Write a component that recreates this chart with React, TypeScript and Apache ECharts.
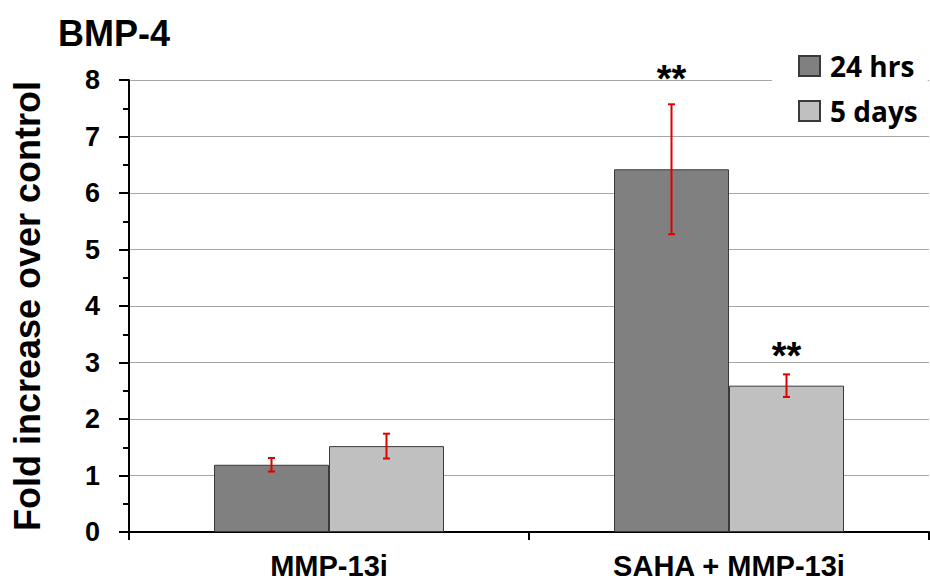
import React, { useEffect, useRef } from "react";
import * as echarts from "echarts";

const categories = ["MMP-13i", "SAHA + MMP-13i"];
const seriesNames = ["24 hrs", "5 days"];
const hrs24 = [1.19, 6.42];
const days5 = [1.52, 2.59];
const hrs24Err = [0.12, 1.15];
const days5Err = [0.22, 0.2];
const hrs24Sig = ["", "**"];
const days5Sig = ["", "**"];
const hrs24SigY = [0, 8.02];
const days5SigY = [0, 3.12];
const yTicks = [0, 1, 2, 3, 4, 5, 6, 7, 8];

const BAR_W = 115;
const FONT = "Arial, 'Liberation Sans', sans-serif";

function errSeries(means: number[], errs: number[], sig: string[], sigY: number[], side: number) {
  return {
    type: "custom",
    silent: true,
    z: 5,
    clip: false,
    data: means.map((m, i) => [i, m, errs[i], sigY[i]]),
    encode: { x: 0, y: 1 },
    renderItem: (params: any, api: any) => {
      const cat = api.value(0);
      const mean = api.value(1);
      const err = api.value(2);
      const sy = api.value(3);
      const off = (side * BAR_W) / 2;
      const xc = api.coord([cat, mean])[0] + off;
      const top = api.coord([cat, mean + err])[1];
      const bot = api.coord([cat, mean - err])[1];
      const st = { stroke: "#e00000", lineWidth: 2 };
      const cap = 3.5;
      const children: any[] = [
        { type: "line", shape: { x1: xc, y1: top, x2: xc, y2: bot }, style: st },
        { type: "line", shape: { x1: xc - cap, y1: top, x2: xc + cap, y2: top }, style: st },
        { type: "line", shape: { x1: xc - cap, y1: bot, x2: xc + cap, y2: bot }, style: st },
      ];
      const s = sig[params.dataIndex];
      if (s) {
        const p = api.coord([cat, sy]);
        children.push({
          type: "text",
          x: xc,
          y: p[1],
          style: {
            text: s,
            fontSize: 38,
            fontWeight: "bold",
            fontFamily: FONT,
            fill: "#000",
            align: "center",
            verticalAlign: "middle",
          },
        });
      }
      return { type: "group", children };
    },
  };
}

export default function App() {
  const ref = useRef<HTMLDivElement>(null);
  useEffect(() => {
    if (!ref.current) return;
    const chart = echarts.init(ref.current, null, { renderer: "svg" });
    chart.setOption({
      animation: false,
      backgroundColor: "#fff",
      title: {
        text: "BMP-4",
        left: 53,
        top: 10,
        textStyle: { fontSize: 36, fontWeight: "bold", fontFamily: FONT, color: "#000" },
      },
      legend: {
        data: seriesNames,
        orient: "vertical",
        left: 772,
        top: 47,
        padding: [5, 10, 5, 26],
        backgroundColor: "#fff",
        itemWidth: 21,
        itemHeight: 20,
        itemGap: 17,
        icon: "rect",
        z: 10,
        textStyle: {
          fontSize: 28,
          fontWeight: "bold",
          fontFamily: "'Open Sans', sans-serif",
          color: "#000",
          lineHeight: 28,
          padding: [0, 0, 0, 5],
        },
      },
      grid: { left: 129, right: 1, top: 80, bottom: 51 },
      xAxis: {
        type: "category",
        data: categories,
        axisLine: { lineStyle: { color: "#000", width: 2 } },
        axisTick: { show: true, length: 8, lineStyle: { color: "#000", width: 2 } },
        axisLabel: { fontSize: 29, fontWeight: "bold", fontFamily: FONT, color: "#000", margin: 19 },
      },
      yAxis: {
        type: "value",
        min: yTicks[0],
        max: yTicks[yTicks.length - 1],
        interval: 1,
        name: "Fold increase over control",
        nameLocation: "middle",
        nameGap: 84,
        nameTextStyle: { fontSize: 36, fontWeight: "bold", fontFamily: FONT, color: "#000" },
        axisLine: { show: true, lineStyle: { color: "#000", width: 2 } },
        axisTick: { show: true, length: 10, lineStyle: { color: "#000", width: 2 } },
        minorTick: { show: true, splitNumber: 2, length: 6, lineStyle: { color: "#000", width: 2 } },
        axisLabel: { fontSize: 27, fontWeight: "bold", fontFamily: FONT, color: "#000", margin: 29 },
        splitLine: { show: true, lineStyle: { color: "#a6a6a6", width: 1.2 } },
      },
      series: [
        {
          name: seriesNames[0],
          type: "bar",
          data: hrs24,
          barWidth: BAR_W,
          barGap: "0%",
          itemStyle: { color: "#808080", borderColor: "#3a3a3a", borderWidth: 1 },
        },
        {
          name: seriesNames[1],
          type: "bar",
          data: days5,
          barWidth: BAR_W,
          barGap: "0%",
          itemStyle: { color: "#c0c0c0", borderColor: "#3a3a3a", borderWidth: 1 },
        },
        errSeries(hrs24, hrs24Err, hrs24Sig, hrs24SigY, -1),
        errSeries(days5, days5Err, days5Sig, days5SigY, 1),
      ],
    });
    return () => chart.dispose();
  }, []);
  return (
    <div
      ref={ref}
      style={{ position: "fixed", left: 0, top: 0, width: 930, height: 583 }}
    />
  );
}
